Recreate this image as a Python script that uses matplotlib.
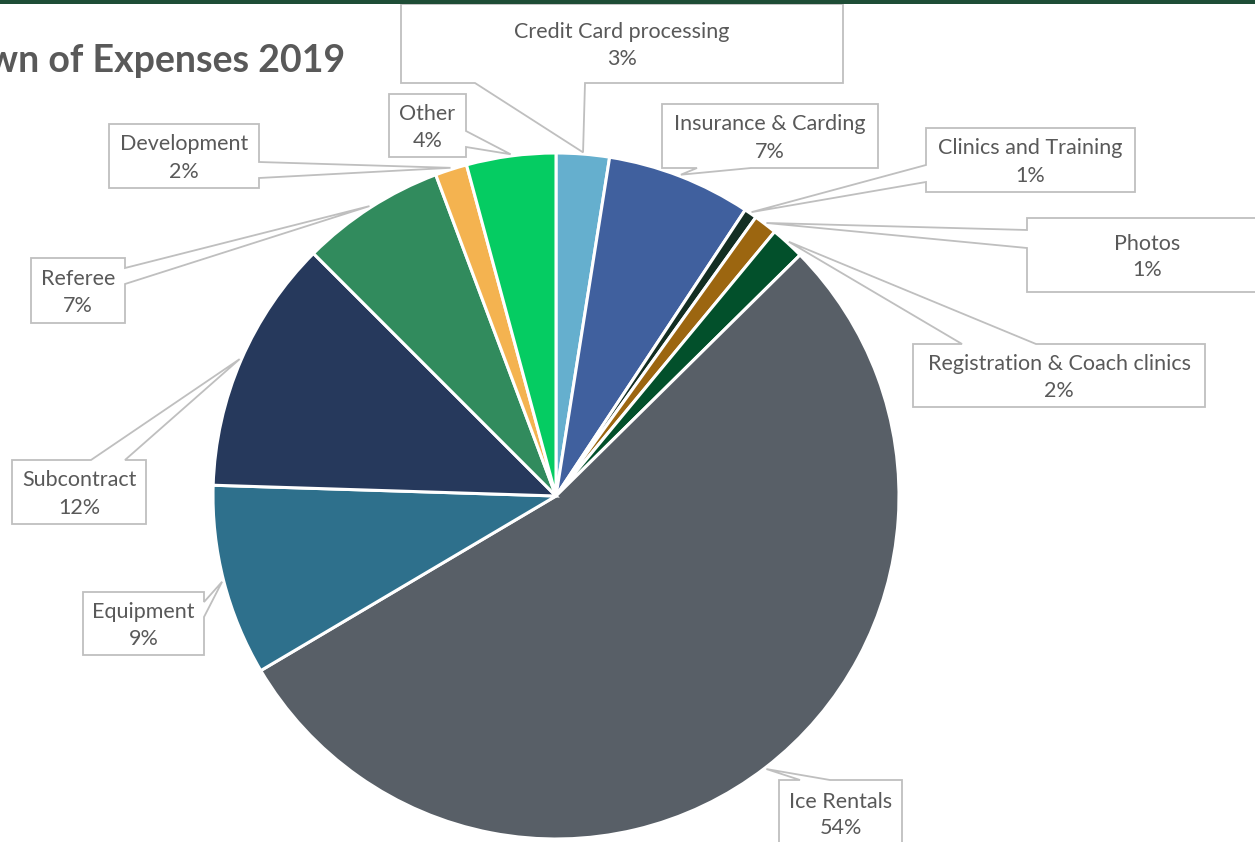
import numpy as np
import matplotlib.pyplot as plt
from matplotlib.patches import Polygon, Rectangle

W, H = 1255, 842

categories = ['Credit Card processing', 'Insurance & Carding', 'Clinics and Training',
              'Photos', 'Registration & Coach clinics', 'Ice Rentals', 'Equipment',
              'Subcontract', 'Referee', 'Development', 'Other']
shares = [2.5, 6.8, 0.6, 1.1, 1.6, 53.9, 9.0, 12.0, 6.8, 1.5, 4.2]
pct_labels = ['3%', '7%', '1%', '1%', '2%', '54%', '9%', '12%', '7%', '2%', '4%']
colors = ['#65AFCE', '#40609E', '#132E22', '#9C6610', '#02502B', '#585F67',
          '#2E708C', '#26395C', '#318B5D', '#F4B350', '#05CC62']

# callout boxes in pixel coords (x0, y0, x1, y1), pointer side and base span
boxes = {
    'Credit Card processing': ((401, 4, 843, 83), 'bottom', (475, 585)),
    'Insurance & Carding': ((662, 104, 878, 168), 'bottom', (697, 751)),
    'Clinics and Training': ((926, 128, 1135, 192), 'left', (165, 182)),
    'Photos': ((1027, 218, 1268, 292), 'left', (230, 248)),
    'Registration & Coach clinics': ((913, 344, 1205, 407), 'top', (962, 1036)),
    'Ice Rentals': ((779, 780, 902, 848), 'top', (800, 830)),
    'Equipment': ((83, 592, 204, 655), 'right', (602, 617)),
    'Subcontract': ((12, 460, 146, 524), 'top', (91, 125)),
    'Referee': ((31, 258, 125, 323), 'right', (268, 284)),
    'Development': ((109, 124, 259, 188), 'right', (162, 178)),
    'Other': ((389, 94, 466, 157), 'right', (131, 147)),
}

center_px = (556, 496)
radius = 343
txt_color = '#595959'
edge_color = '#BFBFBF'

plt.rcParams['font.family'] = ['Lato', 'DejaVu Sans']

fig = plt.figure(figsize=(W / 100, H / 100), dpi=100)
ax = fig.add_axes([0, 0, 1, 1])

wedges, _ = ax.pie(shares, colors=colors, startangle=90, counterclock=False,
                   center=(center_px[0], H - center_px[1]), radius=radius,
                   wedgeprops=dict(edgecolor='white', linewidth=2.2))


def callout(rect, side, base, tip):
    x0, y0, x1, y1 = rect
    a, b = base
    pts = [(x0, y0)]
    if side == 'top':
        pts += [(a, y0), tip, (b, y0)]
    pts.append((x1, y0))
    if side == 'right':
        pts += [(x1, a), tip, (x1, b)]
    pts.append((x1, y1))
    if side == 'bottom':
        pts += [(b, y1), tip, (a, y1)]
    pts.append((x0, y1))
    if side == 'left':
        pts += [(x0, b), tip, (x0, a)]
    return [(x, H - y) for x, y in pts]


for w, name, pct in zip(wedges, categories, pct_labels):
    ang = np.deg2rad((w.theta1 + w.theta2) / 2)
    tx = w.center[0] + 1.005 * w.r * np.cos(ang)
    ty = w.center[1] + 1.005 * w.r * np.sin(ang)
    rect, side, base = boxes[name]
    poly = Polygon(callout(rect, side, base, (tx, H - ty)), closed=True,
                   facecolor='white', edgecolor=edge_color, linewidth=1.3, zorder=5)
    ax.add_patch(poly)
    cx = (rect[0] + rect[2]) / 2
    cy = (rect[1] + rect[3]) / 2
    if name == 'Ice Rentals':
        cy = 813
    ax.text(cx, H - (cy - 13.5), name, ha='center', va='center_baseline',
            fontsize=15.5, color=txt_color, zorder=6)
    ax.text(cx, H - (cy + 13.5), pct, ha='center', va='center_baseline',
            fontsize=15.5, color=txt_color, zorder=6)

# top band and cropped title
ax.add_patch(Rectangle((0, H - 3.5), W, 3.5, facecolor='#1E4D36', edgecolor='none', zorder=7))
ax.text(345, H - 72, 'wn of Expenses 2019', ha='right', va='baseline',
        fontsize=27, fontweight='bold', color=txt_color, zorder=6)

ax.set_xlim(0, W)
ax.set_ylim(0, H)
ax.set_aspect('auto')
ax.axis('off')

fig.savefig('out.png', dpi=100, facecolor='white')
